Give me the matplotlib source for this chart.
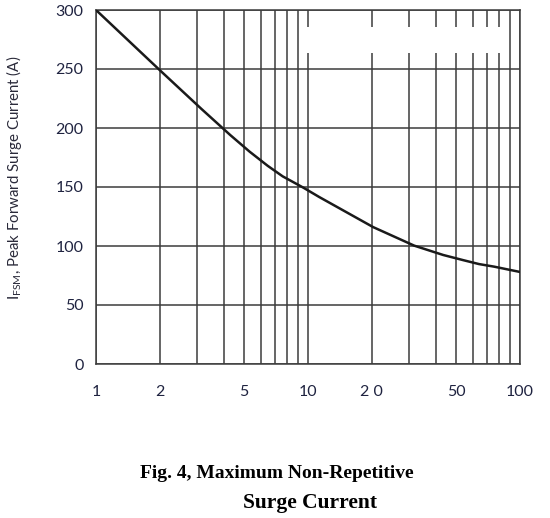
import matplotlib
matplotlib.use('Agg')
import matplotlib.pyplot as plt
from matplotlib.patches import Rectangle

# curve
pulses = [1, 2, 3.15, 4.3, 5.3, 6.45, 7.6, 8.75, 9.6, 11.3, 20.3, 31.7, 43.4, 54, 64, 75.5, 100]
surge = [300, 249, 216, 194, 180, 168, 159, 153, 149, 141.5, 116, 100.3, 92.4, 88, 84.7, 82.5, 78]

x_major = [1, 2, 5, 10, 20, 50, 100]
x_labels = ['1', '2', '5', '10', '2 0', '50', '100']
x_minor = [3, 4, 6, 7, 8, 9, 30, 40, 60, 70, 80, 90]
y_ticks = [0, 50, 100, 150, 200, 250, 300]

TICK_COLOR = '#1f2340'
GRID_COLOR = '#3c3c3c'

fig = plt.figure(figsize=(5.5, 5.18), dpi=100)
ax = fig.add_axes([96 / 550, 1 - 364 / 518, 424 / 550, 354 / 518])

ax.set_xscale('log')
ax.set_xlim(1, 100)
ax.set_ylim(0, 300)

ax.set_xticks(x_major)
ax.set_xticklabels(x_labels)
ax.set_xticks(x_minor, minor=True)
ax.set_xticklabels([], minor=True)
ax.set_yticks(y_ticks)

ax.grid(True, which='both', color=GRID_COLOR, linewidth=1.1)
ax.set_axisbelow(True)
for side in ax.spines.values():
    side.set_color(GRID_COLOR)
    side.set_linewidth(1.1)

ax.tick_params(axis='both', which='both', length=0)
ax.tick_params(axis='x', pad=15, labelsize=11.5, labelcolor=TICK_COLOR)
ax.tick_params(axis='y', pad=9, labelsize=11.5, labelcolor=TICK_COLOR)
for lab in ax.get_xticklabels() + ax.get_yticklabels():
    lab.set_fontfamily('Lato')

ax.plot(pulses, surge, color='#1a1a1a', linewidth=1.8, zorder=3)

# white patch covering part of the top grid in the scan
ax.add_patch(Rectangle((0.495, 0.8785), 0.462, 0.0734, transform=ax.transAxes,
                       facecolor='white', edgecolor='none', zorder=2.5))

ax.set_ylabel(r'I$_{\mathregular{FSM}}$, Peak Forward Surge Current (A)',
              fontsize=10.8, family='Lato', color='#2a2a3a')
ax.yaxis.set_label_coords(-0.17, 0.527)

fig.text(276.5 / 550, 1 - 473 / 518, 'Fig. 4, Maximum Non-Repetitive',
         ha='center', va='center', fontsize=14, fontweight='bold',
         family='Liberation Serif')
fig.text(310 / 550, 1 - 503 / 518, 'Surge Current',
         ha='center', va='center', fontsize=15.5, fontweight='bold',
         family='Liberation Serif')

fig.savefig('out.png', dpi=100)
